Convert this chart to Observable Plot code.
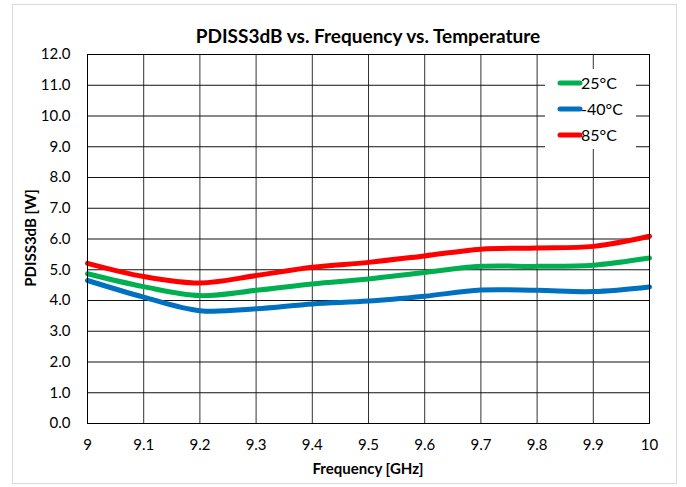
<!DOCTYPE html>
<html>
<head>
<meta charset="utf-8">
<script src="https://cdn.jsdelivr.net/npm/d3@7"></script>
<script src="https://cdn.jsdelivr.net/npm/@observablehq/plot@0.6"></script>
<style>
  html, body { margin: 0; padding: 0; background: #fff; }
  #chart { width: 686px; height: 487px; }
</style>
</head>
<body>
<div id="chart"></div>
<script>
const freq = [9, 9.1, 9.2, 9.3, 9.4, 9.5, 9.6, 9.7, 9.8, 9.9, 10];
const t25 = [4.87, 4.45, 4.16, 4.33, 4.54, 4.70, 4.91, 5.11, 5.11, 5.15, 5.38];
const tm40 = [4.65, 4.11, 3.67, 3.73, 3.89, 3.98, 4.14, 4.34, 4.33, 4.29, 4.44];
const t85 = [5.21, 4.78, 4.57, 4.81, 5.08, 5.24, 5.45, 5.67, 5.71, 5.76, 6.09];
const seriesNames = ["25°C", "-40°C", "85°C"];
const seriesColors = ["#00B050", "#0070C0", "#FF0000"];
const xTicks = [9, 9.1, 9.2, 9.3, 9.4, 9.5, 9.6, 9.7, 9.8, 9.9, 10];
const yTicks = [0, 1, 2, 3, 4, 5, 6, 7, 8, 9, 10, 11, 12];
const title = "PDISS3dB vs. Frequency vs. Temperature";
const xTitle = "Frequency [GHz]";
const yTitle = "PDISS3dB [W]";

const seriesValues = [t25, tm40, t85];
const rows = [];
seriesNames.forEach((s, i) => freq.forEach((f, j) => rows.push({series: s, f, v: seriesValues[i][j]})));

const W = 686, H = 487;
const plot = Plot.plot({
  width: W, height: H,
  marginLeft: 87, marginRight: 37, marginTop: 54, marginBottom: 64,
  style: {fontFamily: "Lato, sans-serif", fontSize: "15px", color: "#000", background: "transparent"},
  x: {domain: [9, 10], ticks: xTicks, tickFormat: d => String(+d.toFixed(1)), tickSize: 0, tickPadding: 16, label: null},
  y: {domain: [0, 12], ticks: yTicks, tickFormat: d3.format(".1f"), tickSize: 0, tickPadding: 17, label: null},
  color: {domain: seriesNames, range: seriesColors},
  marks: [
    Plot.ruleX(xTicks, {stroke: "#333", strokeWidth: 1}),
    Plot.ruleY(yTicks, {stroke: "#111", strokeWidth: 1}),
    Plot.line(rows, {x: "f", y: "v", z: "series", stroke: "series", strokeWidth: 5, curve: "catmull-rom"}),
    Plot.frame({stroke: "#000", strokeWidth: 1})
  ]
});
document.getElementById("chart").appendChild(plot);

const svg = d3.select(plot);
// outer border
svg.insert("rect", ":first-child")
  .attr("x", 12.5).attr("y", 4.5).attr("width", 664).attr("height", 479)
  .attr("fill", "#fff").attr("stroke", "#d9d9d9").attr("stroke-width", 1);

const txt = (x, y, s, size, bold, anchor) => svg.append("text")
  .attr("x", x).attr("y", y).attr("text-anchor", anchor || "middle")
  .attr("font-family", "Lato, sans-serif").attr("font-weight", bold ? "bold" : "normal")
  .attr("font-size", size).attr("fill", "#000").text(s);

txt(368, 43, title, 19, true);
txt(368, 474, xTitle, 15, true);
txt(0, 0, yTitle, 15, true).attr("transform", "translate(36,238) rotate(-90)");

// legend
const lg = svg.append("g");
lg.append("rect").attr("x", 545).attr("y", 69).attr("width", 91).attr("height", 80).attr("fill", "#fff");
seriesNames.forEach((s, i) => {
  const y = 83 + i * 26;
  lg.append("line").attr("x1", 560).attr("x2", 580).attr("y1", y).attr("y2", y)
    .attr("stroke", seriesColors[i]).attr("stroke-width", 5).attr("stroke-linecap", "round");
  lg.append("text").attr("x", 581).attr("y", y).attr("dy", "0.35em").attr("text-anchor", "start")
    .attr("font-family", "Lato, sans-serif").attr("font-size", 16).attr("fill", "#000").text(s);
});
</script>
</body>
</html>
